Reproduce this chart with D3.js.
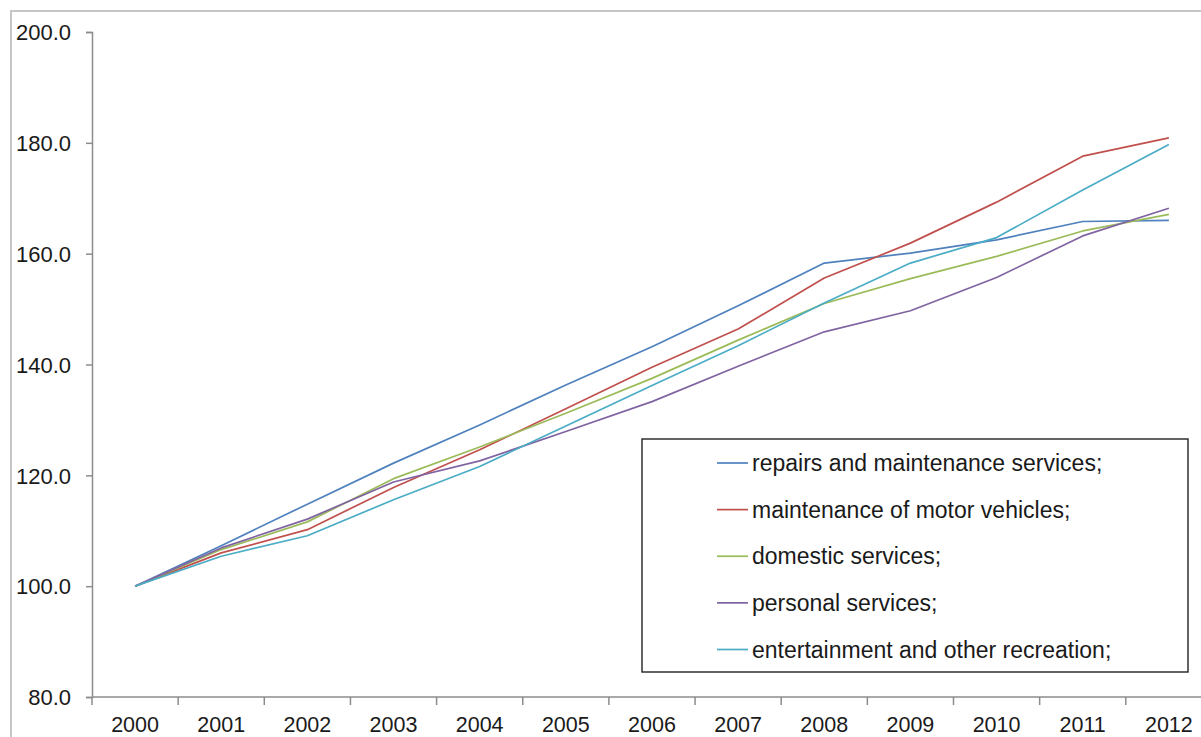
<!DOCTYPE html>
<html>
<head>
<meta charset="utf-8">
<script src="https://cdn.jsdelivr.net/npm/d3@7"></script>
<style>
  html, body { margin: 0; padding: 0; background: #fff; overflow: hidden; }
  svg { display: block; font-family: "Liberation Sans", Arial, Helvetica, sans-serif; }
</style>
</head>
<body>
<svg id="chart" width="1201" height="737"></svg>
<script>
// Price indices of services, 2000 = 100
const years = ["2000","2001","2002","2003","2004","2005","2006","2007","2008","2009","2010","2011","2012"];
const seriesNames = [
  "repairs and maintenance services;",
  "maintenance of motor vehicles;",
  "domestic services;",
  "personal services;",
  "entertainment and other recreation;"
];
const repairs       = [100, 107.3, 114.8, 122.2, 129.1, 136.3, 143.2, 150.6, 158.3, 160.1, 162.5, 165.8, 166.0];
const motorVehicles = [100, 106.0, 110.2, 117.8, 124.6, 132.0, 139.5, 146.4, 155.6, 161.9, 169.3, 177.6, 180.9];
const domestic      = [100, 106.6, 111.6, 119.4, 125.1, 131.2, 137.5, 144.4, 151.0, 155.5, 159.5, 164.1, 167.1];
const personal      = [100, 106.9, 112.1, 118.8, 122.6, 127.9, 133.3, 139.7, 145.9, 149.7, 155.7, 163.2, 168.2];
const entertainment = [100, 105.4, 109.1, 115.6, 121.6, 128.9, 136.2, 143.4, 151.1, 158.3, 162.9, 171.5, 179.7];
const yTicks = [80, 100, 120, 140, 160, 180, 200];
const colors = ["#4F81BD", "#C0504D", "#9BBB59", "#8064A2", "#4BACC6"];

const seriesValues = [repairs, motorVehicles, domestic, personal, entertainment];
const series = seriesNames.map((name, i) => ({ name, values: seriesValues[i], color: colors[i] }));

const svg = d3.select("#chart");
const fontSize = 22;

// Chart area frame (continues past the right and bottom edges)
svg.append("path")
  .attr("d", "M11,760 L11,11 L1230,11")
  .attr("fill", "none")
  .attr("stroke", "#c6c6c6")
  .attr("stroke-width", 2);

const plotLeft = 92, plotTop = 32, plotBottom = 697;
const step = 86.15;
const x = d3.scaleBand().domain(years).range([plotLeft, plotLeft + step * years.length]).paddingInner(0).paddingOuter(0);
const y = d3.scaleLinear().domain([80, 200]).range([plotBottom, plotTop]);

// Y axis
const yAxis = svg.append("g")
  .attr("transform", `translate(${plotLeft},0)`)
  .call(d3.axisLeft(y).tickValues(yTicks).tickSize(6).tickPadding(15).tickFormat(d3.format(".1f")));
yAxis.select(".domain").attr("stroke", "#8c8c8c").attr("stroke-width", 1.5);
yAxis.selectAll(".tick line").attr("stroke", "#8c8c8c").attr("stroke-width", 1.5);
yAxis.selectAll(".tick text").attr("fill", "#1a1a1a").style("font-size", fontSize + "px").attr("dy", "0.35em");

// X axis with ticks on category boundaries
const xAxisG = svg.append("g").attr("transform", `translate(0,${plotBottom})`);
xAxisG.append("line")
  .attr("x1", plotLeft).attr("x2", plotLeft + step * years.length)
  .attr("y1", 0).attr("y2", 0)
  .attr("stroke", "#8c8c8c").attr("stroke-width", 1.5);
xAxisG.selectAll("line.tk")
  .data(years.concat(["end"]))
  .join("line")
  .attr("class", "tk")
  .attr("x1", (d, i) => plotLeft + i * x.step())
  .attr("x2", (d, i) => plotLeft + i * x.step())
  .attr("y1", 0).attr("y2", 8)
  .attr("stroke", "#8c8c8c").attr("stroke-width", 1.5);
xAxisG.selectAll("text")
  .data(years)
  .join("text")
  .attr("x", d => x(d) + x.bandwidth() / 2)
  .attr("y", 35)
  .attr("text-anchor", "middle")
  .attr("fill", "#1a1a1a")
  .style("font-size", "21.5px")
  .text(d => d);

// Series lines
const line = d3.line()
  .x((d, i) => x(years[i]) + x.bandwidth() / 2)
  .y(d => y(d));

svg.append("g").selectAll("path")
  .data(series)
  .join("path")
  .attr("d", d => line(d.values))
  .attr("fill", "none")
  .attr("stroke", d => d.color)
  .attr("stroke-width", 1.7)
  .attr("stroke-linejoin", "round");

// Legend
const legend = svg.append("g");
legend.append("rect")
  .attr("x", 642).attr("y", 439)
  .attr("width", 546).attr("height", 233)
  .attr("fill", "#fff")
  .attr("stroke", "#222")
  .attr("stroke-width", 1.4);
const rowY = d3.scaleLinear().domain([0, 4]).range([463, 649.5]);
const items = legend.selectAll("g.item").data(series).join("g").attr("class", "item")
  .attr("transform", (d, i) => `translate(0,${rowY(i)})`);
items.append("line")
  .attr("x1", 717).attr("x2", 748)
  .attr("y1", 0).attr("y2", 0)
  .attr("stroke", d => d.color).attr("stroke-width", 1.7);
items.append("text")
  .attr("x", 752).attr("y", 0).attr("dy", "0.35em")
  .attr("fill", "#1a1a1a")
  .style("font-size", "23px")
  .text(d => d.name);
</script>
</body>
</html>
